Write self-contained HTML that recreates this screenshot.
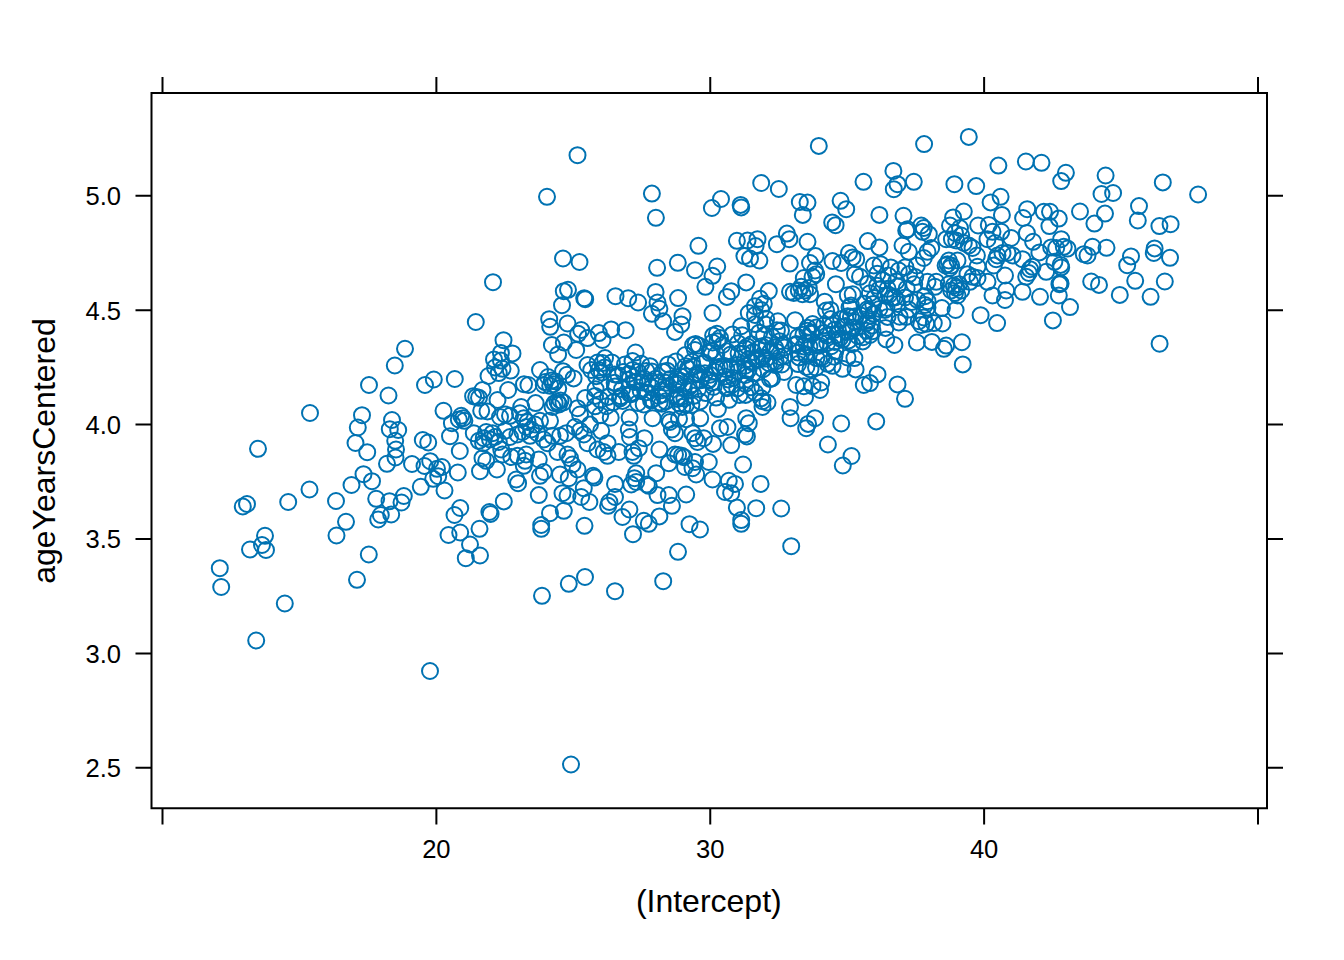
<!DOCTYPE html><html><head><meta charset="utf-8"><title>plot</title><style>html,body{margin:0;padding:0;background:#fff}svg{display:block}text{font-family:"Liberation Sans",Arial,Helvetica,sans-serif;fill:#000}</style></head><body>
<svg width="1344" height="960" viewBox="0 0 1344 960">
<rect width="1344" height="960" fill="#fff"/>
<g fill="none" stroke="#0072B2" stroke-width="2">
<circle cx="475.8" cy="322.0" r="8"/>
<circle cx="405.0" cy="348.8" r="8"/>
<circle cx="394.8" cy="365.5" r="8"/>
<circle cx="433.8" cy="379.5" r="8"/>
<circle cx="425.0" cy="385.0" r="8"/>
<circle cx="454.8" cy="379.0" r="8"/>
<circle cx="369.0" cy="385.0" r="8"/>
<circle cx="388.5" cy="395.5" r="8"/>
<circle cx="310.0" cy="413.0" r="8"/>
<circle cx="362.0" cy="415.2" r="8"/>
<circle cx="392.0" cy="420.0" r="8"/>
<circle cx="357.8" cy="427.5" r="8"/>
<circle cx="389.8" cy="429.2" r="8"/>
<circle cx="398.2" cy="430.0" r="8"/>
<circle cx="258.0" cy="448.8" r="8"/>
<circle cx="355.5" cy="443.0" r="8"/>
<circle cx="395.2" cy="440.8" r="8"/>
<circle cx="396.0" cy="449.5" r="8"/>
<circle cx="367.2" cy="452.2" r="8"/>
<circle cx="395.5" cy="457.5" r="8"/>
<circle cx="387.0" cy="463.8" r="8"/>
<circle cx="412.0" cy="464.0" r="8"/>
<circle cx="422.8" cy="440.0" r="8"/>
<circle cx="428.2" cy="442.5" r="8"/>
<circle cx="443.5" cy="410.8" r="8"/>
<circle cx="450.0" cy="436.2" r="8"/>
<circle cx="459.8" cy="451.0" r="8"/>
<circle cx="430.2" cy="461.2" r="8"/>
<circle cx="424.5" cy="466.0" r="8"/>
<circle cx="437.0" cy="468.8" r="8"/>
<circle cx="438.2" cy="476.2" r="8"/>
<circle cx="433.2" cy="478.8" r="8"/>
<circle cx="457.8" cy="472.5" r="8"/>
<circle cx="420.8" cy="486.8" r="8"/>
<circle cx="444.5" cy="490.5" r="8"/>
<circle cx="363.5" cy="474.2" r="8"/>
<circle cx="372.0" cy="481.2" r="8"/>
<circle cx="351.5" cy="485.0" r="8"/>
<circle cx="309.5" cy="489.5" r="8"/>
<circle cx="288.2" cy="502.0" r="8"/>
<circle cx="247.0" cy="504.0" r="8"/>
<circle cx="242.8" cy="506.5" r="8"/>
<circle cx="336.0" cy="501.0" r="8"/>
<circle cx="376.2" cy="498.8" r="8"/>
<circle cx="403.8" cy="496.0" r="8"/>
<circle cx="389.5" cy="501.2" r="8"/>
<circle cx="401.5" cy="502.5" r="8"/>
<circle cx="346.0" cy="521.8" r="8"/>
<circle cx="380.8" cy="515.0" r="8"/>
<circle cx="391.2" cy="514.5" r="8"/>
<circle cx="378.2" cy="519.5" r="8"/>
<circle cx="460.2" cy="508.0" r="8"/>
<circle cx="454.5" cy="515.0" r="8"/>
<circle cx="265.0" cy="535.8" r="8"/>
<circle cx="336.5" cy="535.5" r="8"/>
<circle cx="448.5" cy="535.0" r="8"/>
<circle cx="460.2" cy="532.5" r="8"/>
<circle cx="479.5" cy="528.8" r="8"/>
<circle cx="480.0" cy="471.2" r="8"/>
<circle cx="262.0" cy="545.0" r="8"/>
<circle cx="266.0" cy="550.0" r="8"/>
<circle cx="250.0" cy="549.5" r="8"/>
<circle cx="219.8" cy="568.2" r="8"/>
<circle cx="221.2" cy="587.0" r="8"/>
<circle cx="284.8" cy="603.5" r="8"/>
<circle cx="256.2" cy="640.5" r="8"/>
<circle cx="430.0" cy="671.0" r="8"/>
<circle cx="357.0" cy="579.8" r="8"/>
<circle cx="368.8" cy="554.5" r="8"/>
<circle cx="470.0" cy="544.5" r="8"/>
<circle cx="465.8" cy="558.2" r="8"/>
<circle cx="480.0" cy="555.5" r="8"/>
<circle cx="577.5" cy="155.2" r="8"/>
<circle cx="547.0" cy="196.8" r="8"/>
<circle cx="563.0" cy="258.5" r="8"/>
<circle cx="579.5" cy="262.0" r="8"/>
<circle cx="493.0" cy="282.2" r="8"/>
<circle cx="563.8" cy="291.2" r="8"/>
<circle cx="568.0" cy="289.8" r="8"/>
<circle cx="584.2" cy="298.2" r="8"/>
<circle cx="585.2" cy="299.2" r="8"/>
<circle cx="562.0" cy="305.2" r="8"/>
<circle cx="615.5" cy="296.2" r="8"/>
<circle cx="628.2" cy="298.2" r="8"/>
<circle cx="549.2" cy="319.2" r="8"/>
<circle cx="550.2" cy="326.8" r="8"/>
<circle cx="567.5" cy="323.5" r="8"/>
<circle cx="503.5" cy="340.2" r="8"/>
<circle cx="500.9" cy="352.9" r="8"/>
<circle cx="512.5" cy="353.4" r="8"/>
<circle cx="494.0" cy="359.4" r="8"/>
<circle cx="500.9" cy="360.6" r="8"/>
<circle cx="495.0" cy="367.5" r="8"/>
<circle cx="502.5" cy="368.8" r="8"/>
<circle cx="510.8" cy="370.6" r="8"/>
<circle cx="488.5" cy="376.0" r="8"/>
<circle cx="498.8" cy="373.1" r="8"/>
<circle cx="581.2" cy="330.0" r="8"/>
<circle cx="578.1" cy="333.8" r="8"/>
<circle cx="587.5" cy="338.1" r="8"/>
<circle cx="598.8" cy="333.1" r="8"/>
<circle cx="602.5" cy="340.0" r="8"/>
<circle cx="551.9" cy="345.0" r="8"/>
<circle cx="563.8" cy="342.5" r="8"/>
<circle cx="558.1" cy="354.4" r="8"/>
<circle cx="576.2" cy="350.0" r="8"/>
<circle cx="540.0" cy="370.0" r="8"/>
<circle cx="563.1" cy="371.2" r="8"/>
<circle cx="567.0" cy="374.8" r="8"/>
<circle cx="573.6" cy="378.4" r="8"/>
<circle cx="587.5" cy="365.0" r="8"/>
<circle cx="528.4" cy="385.0" r="8"/>
<circle cx="524.0" cy="384.2" r="8"/>
<circle cx="548.1" cy="377.0" r="8"/>
<circle cx="543.8" cy="385.0" r="8"/>
<circle cx="545.1" cy="382.1" r="8"/>
<circle cx="551.8" cy="380.6" r="8"/>
<circle cx="553.1" cy="384.2" r="8"/>
<circle cx="550.2" cy="385.8" r="8"/>
<circle cx="555.4" cy="381.4" r="8"/>
<circle cx="558.2" cy="388.6" r="8"/>
<circle cx="482.5" cy="390.0" r="8"/>
<circle cx="473.1" cy="396.2" r="8"/>
<circle cx="476.2" cy="396.9" r="8"/>
<circle cx="479.0" cy="397.8" r="8"/>
<circle cx="497.5" cy="400.0" r="8"/>
<circle cx="508.1" cy="390.0" r="8"/>
<circle cx="535.6" cy="403.1" r="8"/>
<circle cx="557.5" cy="401.8" r="8"/>
<circle cx="559.0" cy="404.4" r="8"/>
<circle cx="560.5" cy="400.4" r="8"/>
<circle cx="554.6" cy="403.2" r="8"/>
<circle cx="563.4" cy="402.5" r="8"/>
<circle cx="585.2" cy="398.1" r="8"/>
<circle cx="597.5" cy="362.5" r="8"/>
<circle cx="591.2" cy="370.0" r="8"/>
<circle cx="598.8" cy="370.0" r="8"/>
<circle cx="596.2" cy="376.2" r="8"/>
<circle cx="638.1" cy="302.5" r="8"/>
<circle cx="655.6" cy="291.9" r="8"/>
<circle cx="657.5" cy="302.5" r="8"/>
<circle cx="659.4" cy="308.8" r="8"/>
<circle cx="651.9" cy="313.8" r="8"/>
<circle cx="663.1" cy="321.2" r="8"/>
<circle cx="678.1" cy="298.1" r="8"/>
<circle cx="682.5" cy="316.2" r="8"/>
<circle cx="681.2" cy="324.4" r="8"/>
<circle cx="675.0" cy="331.9" r="8"/>
<circle cx="712.5" cy="313.1" r="8"/>
<circle cx="726.9" cy="296.9" r="8"/>
<circle cx="731.2" cy="291.2" r="8"/>
<circle cx="611.2" cy="329.4" r="8"/>
<circle cx="625.6" cy="330.2" r="8"/>
<circle cx="635.6" cy="352.5" r="8"/>
<circle cx="760.0" cy="298.8" r="8"/>
<circle cx="755.0" cy="306.2" r="8"/>
<circle cx="748.8" cy="313.1" r="8"/>
<circle cx="761.2" cy="310.0" r="8"/>
<circle cx="766.2" cy="318.8" r="8"/>
<circle cx="741.2" cy="326.2" r="8"/>
<circle cx="755.0" cy="315.0" r="8"/>
<circle cx="763.8" cy="303.8" r="8"/>
<circle cx="713.1" cy="335.6" r="8"/>
<circle cx="716.9" cy="333.8" r="8"/>
<circle cx="720.0" cy="338.1" r="8"/>
<circle cx="717.5" cy="341.2" r="8"/>
<circle cx="712.5" cy="342.5" r="8"/>
<circle cx="732.5" cy="334.4" r="8"/>
<circle cx="722.5" cy="345.0" r="8"/>
<circle cx="693.1" cy="345.0" r="8"/>
<circle cx="695.6" cy="344.0" r="8"/>
<circle cx="698.8" cy="345.6" r="8"/>
<circle cx="685.4" cy="355.0" r="8"/>
<circle cx="695.0" cy="350.0" r="8"/>
<circle cx="605.0" cy="358.1" r="8"/>
<circle cx="602.5" cy="363.1" r="8"/>
<circle cx="604.4" cy="367.5" r="8"/>
<circle cx="601.9" cy="372.5" r="8"/>
<circle cx="625.0" cy="364.4" r="8"/>
<circle cx="641.2" cy="363.8" r="8"/>
<circle cx="650.0" cy="366.2" r="8"/>
<circle cx="668.1" cy="364.4" r="8"/>
<circle cx="623.1" cy="371.9" r="8"/>
<circle cx="632.5" cy="370.0" r="8"/>
<circle cx="897.5" cy="384.4" r="8"/>
<circle cx="905.0" cy="398.8" r="8"/>
<circle cx="877.5" cy="374.4" r="8"/>
<circle cx="863.8" cy="385.0" r="8"/>
<circle cx="870.0" cy="383.1" r="8"/>
<circle cx="855.6" cy="369.4" r="8"/>
<circle cx="842.5" cy="368.8" r="8"/>
<circle cx="854.4" cy="358.1" r="8"/>
<circle cx="847.5" cy="357.5" r="8"/>
<circle cx="894.4" cy="345.0" r="8"/>
<circle cx="886.2" cy="339.4" r="8"/>
<circle cx="916.9" cy="342.5" r="8"/>
<circle cx="805.0" cy="397.5" r="8"/>
<circle cx="790.0" cy="406.9" r="8"/>
<circle cx="821.2" cy="382.5" r="8"/>
<circle cx="820.0" cy="390.0" r="8"/>
<circle cx="812.5" cy="386.2" r="8"/>
<circle cx="803.8" cy="386.2" r="8"/>
<circle cx="796.2" cy="385.0" r="8"/>
<circle cx="767.5" cy="402.5" r="8"/>
<circle cx="762.5" cy="401.2" r="8"/>
<circle cx="898.8" cy="322.5" r="8"/>
<circle cx="906.2" cy="316.9" r="8"/>
<circle cx="918.8" cy="321.2" r="8"/>
<circle cx="926.2" cy="323.8" r="8"/>
<circle cx="887.5" cy="316.9" r="8"/>
<circle cx="885.0" cy="310.0" r="8"/>
<circle cx="905.0" cy="297.5" r="8"/>
<circle cx="895.0" cy="297.5" r="8"/>
<circle cx="888.8" cy="295.0" r="8"/>
<circle cx="925.0" cy="296.2" r="8"/>
<circle cx="927.5" cy="307.5" r="8"/>
<circle cx="870.0" cy="335.0" r="8"/>
<circle cx="872.5" cy="331.2" r="8"/>
<circle cx="827.5" cy="363.8" r="8"/>
<circle cx="628.8" cy="429.5" r="8"/>
<circle cx="630.0" cy="437.0" r="8"/>
<circle cx="644.4" cy="438.2" r="8"/>
<circle cx="670.0" cy="422.0" r="8"/>
<circle cx="671.9" cy="429.5" r="8"/>
<circle cx="675.0" cy="433.2" r="8"/>
<circle cx="692.5" cy="433.2" r="8"/>
<circle cx="695.0" cy="438.2" r="8"/>
<circle cx="697.5" cy="442.0" r="8"/>
<circle cx="703.8" cy="438.2" r="8"/>
<circle cx="713.1" cy="443.9" r="8"/>
<circle cx="720.0" cy="428.2" r="8"/>
<circle cx="727.5" cy="427.0" r="8"/>
<circle cx="731.2" cy="445.1" r="8"/>
<circle cx="746.2" cy="418.2" r="8"/>
<circle cx="748.8" cy="423.2" r="8"/>
<circle cx="745.0" cy="434.5" r="8"/>
<circle cx="746.9" cy="436.4" r="8"/>
<circle cx="762.5" cy="407.0" r="8"/>
<circle cx="607.5" cy="443.2" r="8"/>
<circle cx="603.8" cy="452.0" r="8"/>
<circle cx="607.5" cy="455.8" r="8"/>
<circle cx="618.8" cy="452.0" r="8"/>
<circle cx="632.5" cy="452.0" r="8"/>
<circle cx="633.8" cy="455.8" r="8"/>
<circle cx="638.8" cy="448.2" r="8"/>
<circle cx="659.4" cy="449.5" r="8"/>
<circle cx="675.0" cy="454.5" r="8"/>
<circle cx="678.1" cy="455.1" r="8"/>
<circle cx="681.9" cy="455.8" r="8"/>
<circle cx="684.0" cy="457.2" r="8"/>
<circle cx="668.8" cy="463.2" r="8"/>
<circle cx="685.0" cy="467.0" r="8"/>
<circle cx="695.0" cy="462.0" r="8"/>
<circle cx="692.5" cy="468.2" r="8"/>
<circle cx="708.8" cy="462.0" r="8"/>
<circle cx="696.2" cy="474.5" r="8"/>
<circle cx="712.5" cy="479.5" r="8"/>
<circle cx="743.1" cy="464.5" r="8"/>
<circle cx="728.8" cy="480.8" r="8"/>
<circle cx="735.0" cy="483.9" r="8"/>
<circle cx="725.0" cy="492.0" r="8"/>
<circle cx="731.2" cy="493.2" r="8"/>
<circle cx="760.6" cy="483.9" r="8"/>
<circle cx="736.9" cy="507.6" r="8"/>
<circle cx="756.2" cy="508.2" r="8"/>
<circle cx="741.2" cy="520.1" r="8"/>
<circle cx="636.2" cy="473.2" r="8"/>
<circle cx="634.4" cy="478.2" r="8"/>
<circle cx="636.2" cy="482.0" r="8"/>
<circle cx="656.2" cy="473.2" r="8"/>
<circle cx="646.9" cy="484.5" r="8"/>
<circle cx="648.8" cy="485.8" r="8"/>
<circle cx="615.0" cy="483.9" r="8"/>
<circle cx="631.2" cy="484.5" r="8"/>
<circle cx="615.0" cy="497.0" r="8"/>
<circle cx="609.4" cy="502.0" r="8"/>
<circle cx="608.1" cy="505.8" r="8"/>
<circle cx="657.5" cy="495.1" r="8"/>
<circle cx="668.8" cy="495.1" r="8"/>
<circle cx="686.2" cy="494.5" r="8"/>
<circle cx="671.9" cy="505.8" r="8"/>
<circle cx="629.4" cy="509.5" r="8"/>
<circle cx="622.5" cy="517.0" r="8"/>
<circle cx="659.4" cy="516.4" r="8"/>
<circle cx="643.8" cy="520.8" r="8"/>
<circle cx="461.2" cy="415.8" r="8"/>
<circle cx="463.1" cy="418.2" r="8"/>
<circle cx="464.4" cy="420.8" r="8"/>
<circle cx="458.8" cy="419.5" r="8"/>
<circle cx="451.9" cy="423.2" r="8"/>
<circle cx="441.9" cy="467.0" r="8"/>
<circle cx="481.2" cy="410.8" r="8"/>
<circle cx="487.5" cy="411.4" r="8"/>
<circle cx="473.8" cy="433.2" r="8"/>
<circle cx="478.8" cy="440.8" r="8"/>
<circle cx="483.1" cy="443.2" r="8"/>
<circle cx="483.8" cy="438.2" r="8"/>
<circle cx="492.5" cy="433.2" r="8"/>
<circle cx="495.0" cy="437.0" r="8"/>
<circle cx="490.0" cy="439.5" r="8"/>
<circle cx="498.8" cy="442.0" r="8"/>
<circle cx="486.2" cy="432.0" r="8"/>
<circle cx="482.5" cy="458.2" r="8"/>
<circle cx="486.2" cy="460.8" r="8"/>
<circle cx="496.9" cy="469.5" r="8"/>
<circle cx="502.5" cy="454.5" r="8"/>
<circle cx="505.0" cy="414.5" r="8"/>
<circle cx="510.0" cy="415.8" r="8"/>
<circle cx="501.2" cy="449.5" r="8"/>
<circle cx="511.2" cy="457.0" r="8"/>
<circle cx="517.5" cy="455.8" r="8"/>
<circle cx="526.2" cy="454.5" r="8"/>
<circle cx="525.0" cy="460.8" r="8"/>
<circle cx="523.8" cy="465.8" r="8"/>
<circle cx="516.2" cy="479.5" r="8"/>
<circle cx="518.1" cy="483.2" r="8"/>
<circle cx="538.8" cy="459.5" r="8"/>
<circle cx="540.0" cy="475.8" r="8"/>
<circle cx="543.8" cy="472.0" r="8"/>
<circle cx="538.8" cy="495.1" r="8"/>
<circle cx="503.8" cy="501.4" r="8"/>
<circle cx="489.4" cy="512.0" r="8"/>
<circle cx="490.6" cy="513.9" r="8"/>
<circle cx="560.0" cy="474.5" r="8"/>
<circle cx="568.8" cy="478.2" r="8"/>
<circle cx="570.0" cy="458.2" r="8"/>
<circle cx="567.5" cy="454.5" r="8"/>
<circle cx="572.5" cy="464.5" r="8"/>
<circle cx="577.5" cy="469.5" r="8"/>
<circle cx="557.5" cy="452.0" r="8"/>
<circle cx="562.5" cy="493.2" r="8"/>
<circle cx="567.5" cy="495.8" r="8"/>
<circle cx="583.8" cy="488.2" r="8"/>
<circle cx="581.2" cy="497.0" r="8"/>
<circle cx="589.4" cy="502.0" r="8"/>
<circle cx="593.1" cy="475.8" r="8"/>
<circle cx="594.4" cy="477.6" r="8"/>
<circle cx="563.8" cy="510.8" r="8"/>
<circle cx="550.0" cy="513.2" r="8"/>
<circle cx="520.0" cy="413.2" r="8"/>
<circle cx="523.8" cy="418.2" r="8"/>
<circle cx="527.5" cy="422.0" r="8"/>
<circle cx="526.2" cy="427.0" r="8"/>
<circle cx="531.2" cy="429.5" r="8"/>
<circle cx="522.5" cy="432.0" r="8"/>
<circle cx="530.0" cy="435.8" r="8"/>
<circle cx="535.0" cy="424.5" r="8"/>
<circle cx="540.0" cy="420.8" r="8"/>
<circle cx="517.5" cy="434.5" r="8"/>
<circle cx="537.5" cy="433.2" r="8"/>
<circle cx="521.2" cy="407.0" r="8"/>
<circle cx="550.0" cy="420.8" r="8"/>
<circle cx="552.5" cy="435.8" r="8"/>
<circle cx="560.0" cy="435.8" r="8"/>
<circle cx="566.2" cy="433.2" r="8"/>
<circle cx="575.0" cy="427.0" r="8"/>
<circle cx="580.0" cy="430.8" r="8"/>
<circle cx="583.8" cy="434.5" r="8"/>
<circle cx="580.0" cy="414.5" r="8"/>
<circle cx="577.5" cy="408.2" r="8"/>
<circle cx="590.0" cy="424.5" r="8"/>
<circle cx="587.5" cy="443.2" r="8"/>
<circle cx="597.5" cy="449.5" r="8"/>
<circle cx="601.2" cy="430.8" r="8"/>
<circle cx="552.5" cy="407.0" r="8"/>
<circle cx="543.8" cy="439.5" r="8"/>
<circle cx="547.5" cy="443.2" r="8"/>
<circle cx="505.0" cy="430.8" r="8"/>
<circle cx="510.0" cy="437.0" r="8"/>
<circle cx="500.0" cy="417.0" r="8"/>
<circle cx="790.6" cy="418.2" r="8"/>
<circle cx="815.0" cy="418.2" r="8"/>
<circle cx="808.1" cy="423.9" r="8"/>
<circle cx="806.2" cy="428.2" r="8"/>
<circle cx="841.2" cy="423.5" r="8"/>
<circle cx="876.2" cy="421.4" r="8"/>
<circle cx="827.9" cy="444.5" r="8"/>
<circle cx="851.5" cy="456.0" r="8"/>
<circle cx="842.8" cy="465.5" r="8"/>
<circle cx="781.2" cy="508.5" r="8"/>
<circle cx="651.9" cy="193.6" r="8"/>
<circle cx="655.9" cy="217.8" r="8"/>
<circle cx="721.0" cy="199.0" r="8"/>
<circle cx="711.9" cy="208.0" r="8"/>
<circle cx="740.6" cy="204.9" r="8"/>
<circle cx="741.2" cy="207.4" r="8"/>
<circle cx="761.2" cy="183.0" r="8"/>
<circle cx="698.4" cy="245.8" r="8"/>
<circle cx="736.9" cy="240.8" r="8"/>
<circle cx="747.5" cy="240.5" r="8"/>
<circle cx="757.5" cy="239.2" r="8"/>
<circle cx="755.6" cy="246.1" r="8"/>
<circle cx="744.4" cy="256.1" r="8"/>
<circle cx="750.0" cy="258.6" r="8"/>
<circle cx="759.4" cy="260.5" r="8"/>
<circle cx="657.1" cy="267.8" r="8"/>
<circle cx="677.8" cy="262.8" r="8"/>
<circle cx="695.0" cy="270.2" r="8"/>
<circle cx="717.2" cy="266.5" r="8"/>
<circle cx="712.5" cy="275.8" r="8"/>
<circle cx="705.4" cy="286.8" r="8"/>
<circle cx="746.2" cy="282.4" r="8"/>
<circle cx="778.8" cy="189.0" r="8"/>
<circle cx="799.8" cy="202.0" r="8"/>
<circle cx="807.5" cy="202.6" r="8"/>
<circle cx="802.8" cy="214.9" r="8"/>
<circle cx="840.6" cy="200.8" r="8"/>
<circle cx="846.2" cy="209.2" r="8"/>
<circle cx="832.2" cy="222.4" r="8"/>
<circle cx="835.6" cy="225.2" r="8"/>
<circle cx="863.5" cy="181.8" r="8"/>
<circle cx="879.4" cy="214.9" r="8"/>
<circle cx="893.8" cy="189.2" r="8"/>
<circle cx="897.5" cy="184.2" r="8"/>
<circle cx="913.8" cy="181.8" r="8"/>
<circle cx="903.5" cy="215.8" r="8"/>
<circle cx="786.9" cy="233.6" r="8"/>
<circle cx="789.4" cy="239.2" r="8"/>
<circle cx="776.9" cy="244.2" r="8"/>
<circle cx="807.5" cy="241.8" r="8"/>
<circle cx="789.8" cy="263.6" r="8"/>
<circle cx="867.8" cy="241.1" r="8"/>
<circle cx="879.4" cy="247.4" r="8"/>
<circle cx="849.0" cy="253.0" r="8"/>
<circle cx="852.5" cy="257.4" r="8"/>
<circle cx="856.2" cy="259.2" r="8"/>
<circle cx="815.6" cy="256.1" r="8"/>
<circle cx="810.0" cy="263.0" r="8"/>
<circle cx="832.5" cy="261.1" r="8"/>
<circle cx="841.2" cy="263.0" r="8"/>
<circle cx="815.0" cy="270.5" r="8"/>
<circle cx="812.5" cy="276.8" r="8"/>
<circle cx="816.2" cy="274.2" r="8"/>
<circle cx="803.8" cy="278.0" r="8"/>
<circle cx="855.0" cy="274.2" r="8"/>
<circle cx="860.0" cy="276.8" r="8"/>
<circle cx="835.9" cy="284.2" r="8"/>
<circle cx="873.8" cy="265.5" r="8"/>
<circle cx="880.6" cy="264.2" r="8"/>
<circle cx="902.5" cy="245.5" r="8"/>
<circle cx="908.8" cy="251.8" r="8"/>
<circle cx="907.5" cy="229.2" r="8"/>
<circle cx="906.2" cy="230.5" r="8"/>
<circle cx="921.2" cy="225.5" r="8"/>
<circle cx="923.8" cy="228.0" r="8"/>
<circle cx="922.5" cy="231.8" r="8"/>
<circle cx="916.9" cy="265.5" r="8"/>
<circle cx="898.8" cy="270.5" r="8"/>
<circle cx="768.8" cy="291.1" r="8"/>
<circle cx="790.0" cy="291.8" r="8"/>
<circle cx="793.8" cy="293.0" r="8"/>
<circle cx="801.2" cy="286.8" r="8"/>
<circle cx="805.0" cy="290.5" r="8"/>
<circle cx="808.8" cy="288.0" r="8"/>
<circle cx="802.5" cy="294.2" r="8"/>
<circle cx="810.0" cy="294.2" r="8"/>
<circle cx="798.8" cy="290.5" r="8"/>
<circle cx="954.4" cy="184.2" r="8"/>
<circle cx="976.2" cy="186.1" r="8"/>
<circle cx="1061.2" cy="181.1" r="8"/>
<circle cx="1000.6" cy="196.8" r="8"/>
<circle cx="990.6" cy="202.4" r="8"/>
<circle cx="1001.9" cy="214.9" r="8"/>
<circle cx="963.8" cy="211.5" r="8"/>
<circle cx="953.1" cy="217.4" r="8"/>
<circle cx="1027.2" cy="209.2" r="8"/>
<circle cx="1023.1" cy="218.0" r="8"/>
<circle cx="1043.8" cy="211.8" r="8"/>
<circle cx="1050.0" cy="211.8" r="8"/>
<circle cx="1058.8" cy="218.6" r="8"/>
<circle cx="1049.4" cy="226.1" r="8"/>
<circle cx="1080.0" cy="211.5" r="8"/>
<circle cx="950.0" cy="225.5" r="8"/>
<circle cx="960.0" cy="228.0" r="8"/>
<circle cx="978.1" cy="225.5" r="8"/>
<circle cx="988.8" cy="224.9" r="8"/>
<circle cx="992.5" cy="231.8" r="8"/>
<circle cx="1001.2" cy="231.8" r="8"/>
<circle cx="1011.2" cy="238.0" r="8"/>
<circle cx="987.5" cy="239.2" r="8"/>
<circle cx="995.0" cy="243.0" r="8"/>
<circle cx="1026.9" cy="233.0" r="8"/>
<circle cx="1033.1" cy="241.8" r="8"/>
<circle cx="1039.4" cy="252.4" r="8"/>
<circle cx="1061.2" cy="239.2" r="8"/>
<circle cx="1051.2" cy="247.4" r="8"/>
<circle cx="1063.8" cy="246.8" r="8"/>
<circle cx="1067.5" cy="248.6" r="8"/>
<circle cx="1056.2" cy="248.0" r="8"/>
<circle cx="928.8" cy="234.2" r="8"/>
<circle cx="931.2" cy="248.0" r="8"/>
<circle cx="927.5" cy="251.8" r="8"/>
<circle cx="923.8" cy="258.0" r="8"/>
<circle cx="946.2" cy="239.2" r="8"/>
<circle cx="951.9" cy="239.2" r="8"/>
<circle cx="956.2" cy="240.5" r="8"/>
<circle cx="961.2" cy="235.5" r="8"/>
<circle cx="963.8" cy="243.0" r="8"/>
<circle cx="968.8" cy="245.5" r="8"/>
<circle cx="972.5" cy="248.0" r="8"/>
<circle cx="955.0" cy="233.0" r="8"/>
<circle cx="976.9" cy="255.5" r="8"/>
<circle cx="997.5" cy="255.5" r="8"/>
<circle cx="996.2" cy="259.2" r="8"/>
<circle cx="1002.5" cy="253.0" r="8"/>
<circle cx="1007.5" cy="253.0" r="8"/>
<circle cx="1012.5" cy="255.5" r="8"/>
<circle cx="1022.5" cy="259.2" r="8"/>
<circle cx="1030.0" cy="269.2" r="8"/>
<circle cx="1028.8" cy="273.0" r="8"/>
<circle cx="1026.2" cy="276.8" r="8"/>
<circle cx="1032.5" cy="266.8" r="8"/>
<circle cx="1046.2" cy="271.8" r="8"/>
<circle cx="1054.4" cy="261.8" r="8"/>
<circle cx="1060.6" cy="264.9" r="8"/>
<circle cx="1061.2" cy="267.4" r="8"/>
<circle cx="1060.0" cy="283.0" r="8"/>
<circle cx="1059.4" cy="284.2" r="8"/>
<circle cx="1060.6" cy="283.6" r="8"/>
<circle cx="1083.8" cy="254.2" r="8"/>
<circle cx="1087.5" cy="255.5" r="8"/>
<circle cx="1005.0" cy="275.5" r="8"/>
<circle cx="977.5" cy="266.8" r="8"/>
<circle cx="993.8" cy="265.5" r="8"/>
<circle cx="948.8" cy="260.5" r="8"/>
<circle cx="947.5" cy="264.2" r="8"/>
<circle cx="951.2" cy="265.5" r="8"/>
<circle cx="945.6" cy="265.5" r="8"/>
<circle cx="957.5" cy="260.5" r="8"/>
<circle cx="950.0" cy="268.0" r="8"/>
<circle cx="967.5" cy="274.2" r="8"/>
<circle cx="972.5" cy="276.8" r="8"/>
<circle cx="977.5" cy="278.0" r="8"/>
<circle cx="970.0" cy="281.8" r="8"/>
<circle cx="987.5" cy="281.8" r="8"/>
<circle cx="953.8" cy="285.5" r="8"/>
<circle cx="956.2" cy="288.0" r="8"/>
<circle cx="958.8" cy="284.2" r="8"/>
<circle cx="955.0" cy="293.0" r="8"/>
<circle cx="951.2" cy="290.5" r="8"/>
<circle cx="961.2" cy="290.5" r="8"/>
<circle cx="957.5" cy="295.5" r="8"/>
<circle cx="948.8" cy="284.2" r="8"/>
<circle cx="927.5" cy="281.8" r="8"/>
<circle cx="936.2" cy="281.8" r="8"/>
<circle cx="935.0" cy="286.8" r="8"/>
<circle cx="1006.2" cy="290.5" r="8"/>
<circle cx="992.5" cy="295.5" r="8"/>
<circle cx="1022.5" cy="291.8" r="8"/>
<circle cx="1040.0" cy="296.8" r="8"/>
<circle cx="1058.8" cy="295.5" r="8"/>
<circle cx="927.5" cy="301.2" r="8"/>
<circle cx="925.0" cy="305.0" r="8"/>
<circle cx="941.9" cy="308.1" r="8"/>
<circle cx="955.6" cy="310.0" r="8"/>
<circle cx="980.6" cy="315.2" r="8"/>
<circle cx="997.1" cy="323.1" r="8"/>
<circle cx="1005.0" cy="300.0" r="8"/>
<circle cx="1070.0" cy="307.1" r="8"/>
<circle cx="1052.9" cy="320.4" r="8"/>
<circle cx="923.8" cy="317.5" r="8"/>
<circle cx="921.2" cy="325.0" r="8"/>
<circle cx="933.8" cy="323.1" r="8"/>
<circle cx="942.5" cy="323.5" r="8"/>
<circle cx="931.9" cy="341.9" r="8"/>
<circle cx="946.2" cy="345.6" r="8"/>
<circle cx="943.8" cy="348.8" r="8"/>
<circle cx="961.9" cy="342.2" r="8"/>
<circle cx="962.8" cy="364.4" r="8"/>
<circle cx="1105.6" cy="175.5" r="8"/>
<circle cx="1101.5" cy="194.0" r="8"/>
<circle cx="1113.1" cy="193.0" r="8"/>
<circle cx="1162.8" cy="182.4" r="8"/>
<circle cx="1198.1" cy="194.5" r="8"/>
<circle cx="1105.0" cy="213.6" r="8"/>
<circle cx="1094.4" cy="223.6" r="8"/>
<circle cx="1139.0" cy="206.1" r="8"/>
<circle cx="1137.8" cy="220.5" r="8"/>
<circle cx="1159.4" cy="226.1" r="8"/>
<circle cx="1170.6" cy="224.2" r="8"/>
<circle cx="1092.5" cy="246.8" r="8"/>
<circle cx="1106.5" cy="247.8" r="8"/>
<circle cx="1131.0" cy="256.4" r="8"/>
<circle cx="1127.2" cy="265.2" r="8"/>
<circle cx="1154.6" cy="248.4" r="8"/>
<circle cx="1153.8" cy="253.0" r="8"/>
<circle cx="1170.0" cy="257.8" r="8"/>
<circle cx="1091.2" cy="281.5" r="8"/>
<circle cx="1099.0" cy="284.9" r="8"/>
<circle cx="1135.2" cy="280.8" r="8"/>
<circle cx="1164.8" cy="281.5" r="8"/>
<circle cx="1119.8" cy="294.9" r="8"/>
<circle cx="1150.6" cy="296.8" r="8"/>
<circle cx="1159.6" cy="343.7" r="8"/>
<circle cx="818.8" cy="145.9" r="8"/>
<circle cx="924.1" cy="144.1" r="8"/>
<circle cx="968.8" cy="136.9" r="8"/>
<circle cx="998.4" cy="165.6" r="8"/>
<circle cx="893.4" cy="170.9" r="8"/>
<circle cx="1025.9" cy="161.5" r="8"/>
<circle cx="1041.5" cy="162.8" r="8"/>
<circle cx="1065.9" cy="172.8" r="8"/>
<circle cx="541.2" cy="525.0" r="8"/>
<circle cx="541.2" cy="528.8" r="8"/>
<circle cx="584.5" cy="525.8" r="8"/>
<circle cx="633.0" cy="534.2" r="8"/>
<circle cx="648.8" cy="523.8" r="8"/>
<circle cx="689.5" cy="524.2" r="8"/>
<circle cx="700.0" cy="529.5" r="8"/>
<circle cx="678.0" cy="551.8" r="8"/>
<circle cx="741.2" cy="523.8" r="8"/>
<circle cx="585.0" cy="577.0" r="8"/>
<circle cx="568.8" cy="583.8" r="8"/>
<circle cx="542.0" cy="595.8" r="8"/>
<circle cx="615.0" cy="591.2" r="8"/>
<circle cx="663.2" cy="581.2" r="8"/>
<circle cx="571.0" cy="764.5" r="8"/>
<circle cx="791.2" cy="546.2" r="8"/>
<circle cx="595.6" cy="389.2" r="8"/>
<circle cx="595.1" cy="395.9" r="8"/>
<circle cx="595.1" cy="406.3" r="8"/>
<circle cx="600.9" cy="383.0" r="8"/>
<circle cx="608.1" cy="396.9" r="8"/>
<circle cx="600.4" cy="399.8" r="8"/>
<circle cx="606.5" cy="406.2" r="8"/>
<circle cx="600.2" cy="415.3" r="8"/>
<circle cx="611.9" cy="362.4" r="8"/>
<circle cx="614.6" cy="374.4" r="8"/>
<circle cx="618.4" cy="375.2" r="8"/>
<circle cx="615.0" cy="386.6" r="8"/>
<circle cx="614.6" cy="382.8" r="8"/>
<circle cx="620.0" cy="398.4" r="8"/>
<circle cx="613.2" cy="402.3" r="8"/>
<circle cx="610.7" cy="417.7" r="8"/>
<circle cx="628.5" cy="373.9" r="8"/>
<circle cx="628.5" cy="380.0" r="8"/>
<circle cx="622.1" cy="389.1" r="8"/>
<circle cx="629.8" cy="394.0" r="8"/>
<circle cx="620.7" cy="396.3" r="8"/>
<circle cx="622.7" cy="400.9" r="8"/>
<circle cx="629.6" cy="417.6" r="8"/>
<circle cx="632.5" cy="361.0" r="8"/>
<circle cx="638.0" cy="371.8" r="8"/>
<circle cx="634.5" cy="381.9" r="8"/>
<circle cx="637.3" cy="381.3" r="8"/>
<circle cx="631.2" cy="394.2" r="8"/>
<circle cx="632.1" cy="392.7" r="8"/>
<circle cx="638.0" cy="403.0" r="8"/>
<circle cx="643.9" cy="378.5" r="8"/>
<circle cx="646.4" cy="371.0" r="8"/>
<circle cx="642.1" cy="382.6" r="8"/>
<circle cx="647.7" cy="383.3" r="8"/>
<circle cx="640.7" cy="390.9" r="8"/>
<circle cx="645.8" cy="392.4" r="8"/>
<circle cx="643.7" cy="404.5" r="8"/>
<circle cx="655.7" cy="378.7" r="8"/>
<circle cx="651.8" cy="371.5" r="8"/>
<circle cx="658.2" cy="382.5" r="8"/>
<circle cx="651.9" cy="387.4" r="8"/>
<circle cx="652.0" cy="399.5" r="8"/>
<circle cx="658.8" cy="396.0" r="8"/>
<circle cx="651.0" cy="400.4" r="8"/>
<circle cx="659.6" cy="402.4" r="8"/>
<circle cx="652.6" cy="418.2" r="8"/>
<circle cx="662.9" cy="371.8" r="8"/>
<circle cx="667.2" cy="370.7" r="8"/>
<circle cx="665.6" cy="388.5" r="8"/>
<circle cx="666.1" cy="382.8" r="8"/>
<circle cx="662.0" cy="390.2" r="8"/>
<circle cx="662.7" cy="394.5" r="8"/>
<circle cx="661.8" cy="403.7" r="8"/>
<circle cx="665.7" cy="401.3" r="8"/>
<circle cx="668.9" cy="419.8" r="8"/>
<circle cx="675.8" cy="361.4" r="8"/>
<circle cx="670.2" cy="379.1" r="8"/>
<circle cx="677.0" cy="379.6" r="8"/>
<circle cx="676.4" cy="384.8" r="8"/>
<circle cx="677.3" cy="383.2" r="8"/>
<circle cx="680.0" cy="380.8" r="8"/>
<circle cx="677.4" cy="399.0" r="8"/>
<circle cx="677.4" cy="397.0" r="8"/>
<circle cx="679.2" cy="403.5" r="8"/>
<circle cx="679.0" cy="418.7" r="8"/>
<circle cx="687.9" cy="368.6" r="8"/>
<circle cx="685.7" cy="366.2" r="8"/>
<circle cx="685.8" cy="376.1" r="8"/>
<circle cx="680.8" cy="376.4" r="8"/>
<circle cx="688.8" cy="387.3" r="8"/>
<circle cx="683.9" cy="387.4" r="8"/>
<circle cx="684.4" cy="398.4" r="8"/>
<circle cx="680.8" cy="397.5" r="8"/>
<circle cx="686.0" cy="404.8" r="8"/>
<circle cx="682.3" cy="407.0" r="8"/>
<circle cx="686.1" cy="419.2" r="8"/>
<circle cx="693.0" cy="366.8" r="8"/>
<circle cx="692.0" cy="361.7" r="8"/>
<circle cx="696.6" cy="374.4" r="8"/>
<circle cx="698.9" cy="373.3" r="8"/>
<circle cx="692.0" cy="384.3" r="8"/>
<circle cx="698.1" cy="389.1" r="8"/>
<circle cx="693.8" cy="395.8" r="8"/>
<circle cx="691.4" cy="405.0" r="8"/>
<circle cx="709.5" cy="352.8" r="8"/>
<circle cx="704.5" cy="362.8" r="8"/>
<circle cx="702.1" cy="364.1" r="8"/>
<circle cx="704.9" cy="373.2" r="8"/>
<circle cx="708.4" cy="379.8" r="8"/>
<circle cx="700.7" cy="380.3" r="8"/>
<circle cx="708.7" cy="380.4" r="8"/>
<circle cx="705.7" cy="393.1" r="8"/>
<circle cx="700.2" cy="401.4" r="8"/>
<circle cx="700.2" cy="418.3" r="8"/>
<circle cx="711.4" cy="350.5" r="8"/>
<circle cx="716.3" cy="354.5" r="8"/>
<circle cx="716.6" cy="368.1" r="8"/>
<circle cx="719.6" cy="366.8" r="8"/>
<circle cx="714.8" cy="371.8" r="8"/>
<circle cx="710.1" cy="374.7" r="8"/>
<circle cx="711.8" cy="382.7" r="8"/>
<circle cx="713.5" cy="387.0" r="8"/>
<circle cx="716.1" cy="397.6" r="8"/>
<circle cx="717.9" cy="409.1" r="8"/>
<circle cx="727.2" cy="351.3" r="8"/>
<circle cx="726.3" cy="369.1" r="8"/>
<circle cx="723.8" cy="365.7" r="8"/>
<circle cx="728.0" cy="379.4" r="8"/>
<circle cx="724.6" cy="376.5" r="8"/>
<circle cx="727.2" cy="388.2" r="8"/>
<circle cx="726.4" cy="387.2" r="8"/>
<circle cx="729.0" cy="399.8" r="8"/>
<circle cx="737.9" cy="343.2" r="8"/>
<circle cx="738.6" cy="353.5" r="8"/>
<circle cx="730.8" cy="354.4" r="8"/>
<circle cx="737.7" cy="364.9" r="8"/>
<circle cx="730.3" cy="368.1" r="8"/>
<circle cx="738.0" cy="371.7" r="8"/>
<circle cx="733.4" cy="377.9" r="8"/>
<circle cx="731.5" cy="385.2" r="8"/>
<circle cx="737.2" cy="388.4" r="8"/>
<circle cx="739.5" cy="394.9" r="8"/>
<circle cx="742.2" cy="335.3" r="8"/>
<circle cx="747.3" cy="346.4" r="8"/>
<circle cx="745.2" cy="348.4" r="8"/>
<circle cx="743.1" cy="353.8" r="8"/>
<circle cx="748.5" cy="359.0" r="8"/>
<circle cx="748.5" cy="369.7" r="8"/>
<circle cx="745.2" cy="365.7" r="8"/>
<circle cx="745.4" cy="375.0" r="8"/>
<circle cx="746.1" cy="370.3" r="8"/>
<circle cx="745.2" cy="384.0" r="8"/>
<circle cx="745.6" cy="394.9" r="8"/>
<circle cx="755.4" cy="324.1" r="8"/>
<circle cx="759.2" cy="332.7" r="8"/>
<circle cx="751.3" cy="344.3" r="8"/>
<circle cx="758.2" cy="349.0" r="8"/>
<circle cx="753.2" cy="351.9" r="8"/>
<circle cx="756.2" cy="359.3" r="8"/>
<circle cx="757.8" cy="360.2" r="8"/>
<circle cx="751.9" cy="362.3" r="8"/>
<circle cx="753.2" cy="373.6" r="8"/>
<circle cx="751.0" cy="387.3" r="8"/>
<circle cx="755.1" cy="392.5" r="8"/>
<circle cx="765.3" cy="324.4" r="8"/>
<circle cx="764.1" cy="335.3" r="8"/>
<circle cx="762.0" cy="346.3" r="8"/>
<circle cx="766.4" cy="345.3" r="8"/>
<circle cx="766.1" cy="358.6" r="8"/>
<circle cx="762.3" cy="357.4" r="8"/>
<circle cx="769.0" cy="363.2" r="8"/>
<circle cx="763.1" cy="369.2" r="8"/>
<circle cx="770.0" cy="378.9" r="8"/>
<circle cx="762.4" cy="387.3" r="8"/>
<circle cx="761.0" cy="398.3" r="8"/>
<circle cx="777.9" cy="321.3" r="8"/>
<circle cx="776.9" cy="330.2" r="8"/>
<circle cx="772.0" cy="336.8" r="8"/>
<circle cx="779.7" cy="341.2" r="8"/>
<circle cx="775.1" cy="347.6" r="8"/>
<circle cx="776.9" cy="351.9" r="8"/>
<circle cx="770.7" cy="351.1" r="8"/>
<circle cx="775.5" cy="365.1" r="8"/>
<circle cx="775.7" cy="361.5" r="8"/>
<circle cx="772.0" cy="378.4" r="8"/>
<circle cx="781.0" cy="330.6" r="8"/>
<circle cx="784.6" cy="347.6" r="8"/>
<circle cx="783.3" cy="344.7" r="8"/>
<circle cx="784.3" cy="356.0" r="8"/>
<circle cx="780.1" cy="357.0" r="8"/>
<circle cx="781.8" cy="364.5" r="8"/>
<circle cx="784.1" cy="372.0" r="8"/>
<circle cx="795.1" cy="320.2" r="8"/>
<circle cx="798.0" cy="337.0" r="8"/>
<circle cx="796.3" cy="344.0" r="8"/>
<circle cx="796.0" cy="345.0" r="8"/>
<circle cx="798.0" cy="352.6" r="8"/>
<circle cx="799.1" cy="357.4" r="8"/>
<circle cx="798.1" cy="364.1" r="8"/>
<circle cx="807.7" cy="327.7" r="8"/>
<circle cx="807.2" cy="330.7" r="8"/>
<circle cx="803.4" cy="334.7" r="8"/>
<circle cx="803.6" cy="346.4" r="8"/>
<circle cx="806.2" cy="342.3" r="8"/>
<circle cx="809.4" cy="346.7" r="8"/>
<circle cx="806.6" cy="355.7" r="8"/>
<circle cx="805.3" cy="353.9" r="8"/>
<circle cx="806.4" cy="367.0" r="8"/>
<circle cx="816.2" cy="327.4" r="8"/>
<circle cx="812.6" cy="324.0" r="8"/>
<circle cx="812.0" cy="333.8" r="8"/>
<circle cx="811.0" cy="332.5" r="8"/>
<circle cx="815.5" cy="345.1" r="8"/>
<circle cx="819.7" cy="345.7" r="8"/>
<circle cx="816.4" cy="358.1" r="8"/>
<circle cx="816.0" cy="367.6" r="8"/>
<circle cx="810.5" cy="369.3" r="8"/>
<circle cx="824.7" cy="301.7" r="8"/>
<circle cx="826.1" cy="310.6" r="8"/>
<circle cx="824.2" cy="325.3" r="8"/>
<circle cx="823.7" cy="332.9" r="8"/>
<circle cx="826.6" cy="335.6" r="8"/>
<circle cx="827.2" cy="343.0" r="8"/>
<circle cx="820.1" cy="342.5" r="8"/>
<circle cx="821.6" cy="357.5" r="8"/>
<circle cx="823.9" cy="359.0" r="8"/>
<circle cx="830.5" cy="309.9" r="8"/>
<circle cx="830.7" cy="319.1" r="8"/>
<circle cx="834.8" cy="329.7" r="8"/>
<circle cx="832.4" cy="325.2" r="8"/>
<circle cx="837.2" cy="334.7" r="8"/>
<circle cx="839.8" cy="338.2" r="8"/>
<circle cx="831.2" cy="346.2" r="8"/>
<circle cx="834.6" cy="342.0" r="8"/>
<circle cx="835.3" cy="351.2" r="8"/>
<circle cx="834.4" cy="356.7" r="8"/>
<circle cx="832.6" cy="365.8" r="8"/>
<circle cx="847.8" cy="295.3" r="8"/>
<circle cx="849.5" cy="307.3" r="8"/>
<circle cx="841.1" cy="318.9" r="8"/>
<circle cx="847.8" cy="316.2" r="8"/>
<circle cx="842.7" cy="326.9" r="8"/>
<circle cx="845.6" cy="325.9" r="8"/>
<circle cx="847.5" cy="331.9" r="8"/>
<circle cx="842.5" cy="339.8" r="8"/>
<circle cx="848.8" cy="340.4" r="8"/>
<circle cx="852.7" cy="294.3" r="8"/>
<circle cx="851.0" cy="305.4" r="8"/>
<circle cx="850.9" cy="316.8" r="8"/>
<circle cx="855.5" cy="316.3" r="8"/>
<circle cx="854.8" cy="322.1" r="8"/>
<circle cx="853.4" cy="327.4" r="8"/>
<circle cx="850.7" cy="331.2" r="8"/>
<circle cx="858.1" cy="336.2" r="8"/>
<circle cx="852.1" cy="344.2" r="8"/>
<circle cx="868.1" cy="283.7" r="8"/>
<circle cx="869.9" cy="293.3" r="8"/>
<circle cx="867.5" cy="309.2" r="8"/>
<circle cx="864.3" cy="303.7" r="8"/>
<circle cx="868.8" cy="310.8" r="8"/>
<circle cx="860.8" cy="315.6" r="8"/>
<circle cx="866.9" cy="323.0" r="8"/>
<circle cx="867.8" cy="320.8" r="8"/>
<circle cx="866.6" cy="330.8" r="8"/>
<circle cx="863.0" cy="337.2" r="8"/>
<circle cx="862.8" cy="341.4" r="8"/>
<circle cx="877.3" cy="273.7" r="8"/>
<circle cx="877.1" cy="285.7" r="8"/>
<circle cx="879.2" cy="289.4" r="8"/>
<circle cx="874.4" cy="298.0" r="8"/>
<circle cx="873.2" cy="304.0" r="8"/>
<circle cx="879.3" cy="308.9" r="8"/>
<circle cx="873.6" cy="313.7" r="8"/>
<circle cx="873.6" cy="314.0" r="8"/>
<circle cx="871.9" cy="325.6" r="8"/>
<circle cx="888.4" cy="275.6" r="8"/>
<circle cx="887.6" cy="288.8" r="8"/>
<circle cx="882.8" cy="280.2" r="8"/>
<circle cx="885.4" cy="295.7" r="8"/>
<circle cx="886.5" cy="308.0" r="8"/>
<circle cx="885.5" cy="327.9" r="8"/>
<circle cx="890.8" cy="267.4" r="8"/>
<circle cx="896.3" cy="281.4" r="8"/>
<circle cx="897.5" cy="286.5" r="8"/>
<circle cx="892.2" cy="297.7" r="8"/>
<circle cx="897.6" cy="303.9" r="8"/>
<circle cx="899.7" cy="316.7" r="8"/>
<circle cx="905.4" cy="267.2" r="8"/>
<circle cx="909.1" cy="274.1" r="8"/>
<circle cx="906.7" cy="288.5" r="8"/>
<circle cx="908.9" cy="309.6" r="8"/>
<circle cx="915.2" cy="277.1" r="8"/>
<circle cx="914.2" cy="284.2" r="8"/>
<circle cx="917.4" cy="299.9" r="8"/>
<circle cx="911.7" cy="302.0" r="8"/>
</g>
<g fill="none" stroke="#000" stroke-width="2">
<rect x="151.5" y="93" width="1115.5" height="715.25"/>
<path d="M162.50 93 V77 M162.50 808.25 V824.45"/>
<path d="M436.38 93 V77 M436.38 808.25 V824.45"/>
<path d="M710.25 93 V77 M710.25 808.25 V824.45"/>
<path d="M984.12 93 V77 M984.12 808.25 V824.45"/>
<path d="M1258.00 93 V77 M1258.00 808.25 V824.45"/>
<path d="M151.5 767.80 H135.5 M1267 767.80 H1283"/>
<path d="M151.5 653.40 H135.5 M1267 653.40 H1283"/>
<path d="M151.5 539.00 H135.5 M1267 539.00 H1283"/>
<path d="M151.5 424.60 H135.5 M1267 424.60 H1283"/>
<path d="M151.5 310.20 H135.5 M1267 310.20 H1283"/>
<path d="M151.5 195.80 H135.5 M1267 195.80 H1283"/>
</g>
<g font-size="25.6" text-anchor="middle">
<text x="436.38" y="857.6">20</text>
<text x="710.25" y="857.6">30</text>
<text x="984.12" y="857.6">40</text>
</g><g font-size="25.6" text-anchor="end">
<text x="121" y="777.10">2.5</text>
<text x="121" y="662.70">3.0</text>
<text x="121" y="548.30">3.5</text>
<text x="121" y="433.90">4.0</text>
<text x="121" y="319.50">4.5</text>
<text x="121" y="205.10">5.0</text>
</g>
<text x="708.8" y="912" font-size="32" text-anchor="middle">(Intercept)</text>
<text transform="translate(55,451) rotate(-90)" font-size="32" text-anchor="middle">ageYearsCentered</text>
</svg></body></html>
